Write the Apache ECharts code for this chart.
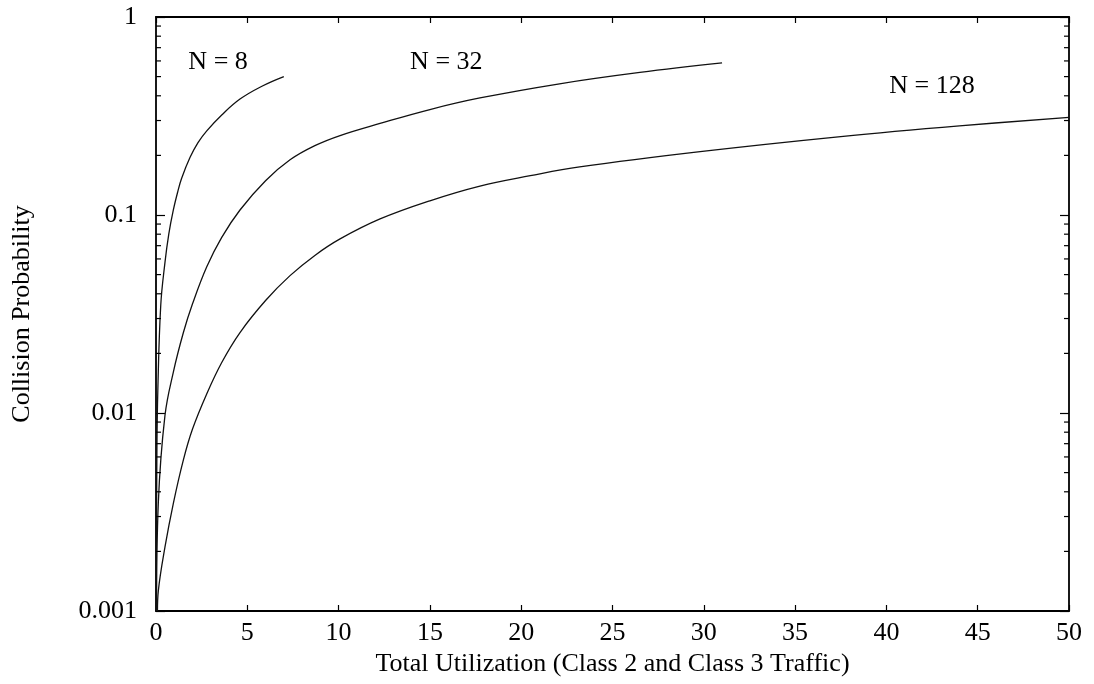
<!DOCTYPE html>
<html>
<head>
<meta charset="utf-8">
<script src="https://cdn.jsdelivr.net/npm/echarts@6/dist/echarts.min.js"></script>
<style>
  html, body { margin: 0; padding: 0; background: #fff; }
  #chart { width: 1094px; height: 684px; }
</style>
</head>
<body>
<div id="chart"></div>
<script>
// Collision probability vs. total utilization for three network sizes
const n8U  = [0.008, 0.05, 0.1, 0.26, 0.49, 0.7, 0.95, 1.2, 1.4, 1.86, 2.3, 2.78, 3.6, 4.6, 5.8, 7.0];
const n8P  = [0.001, 0.0065, 0.013, 0.035, 0.0575, 0.08, 0.106, 0.132, 0.153, 0.195, 0.232, 0.266, 0.32, 0.385, 0.447, 0.50];

const n32U = [0.03, 0.126, 0.49, 0.95, 1.5, 2.0, 2.78, 3.6, 4.6, 6.0, 7.34, 8.7, 10.08, 12.27, 15.0, 17.74, 22.1, 26.5, 31.0];
const n32P = [0.001, 0.0035, 0.0097, 0.0161, 0.0255, 0.0356, 0.0548, 0.0771, 0.106, 0.149, 0.19, 0.224, 0.252, 0.29, 0.341, 0.39, 0.46, 0.525, 0.586];

const n128U = [0.08, 0.126, 0.49, 0.95, 1.5, 2.0, 2.78, 3.6, 4.6, 6.0, 7.34, 8.7, 10.08, 12.27, 15.0, 17.74, 20.5, 23.2, 29.8, 37.5, 44, 50];
const n128P = [0.001, 0.00126, 0.0021, 0.0035, 0.0058, 0.0083, 0.0125, 0.018, 0.0255, 0.037, 0.0494, 0.0625, 0.0757, 0.0955, 0.118, 0.14, 0.158, 0.175, 0.209, 0.249, 0.282, 0.311];

const xTicks = [0, 5, 10, 15, 20, 25, 30, 35, 40, 45, 50];
const yTickLabels = { '0.001': '0.001', '0.01': '0.01', '0.1': '0.1', '1': '1' };
// minor log ticks (2..9 within each decade)
const minorTickValues = [];
[0.001, 0.01, 0.1].forEach(function (d) {
  for (let k = 2; k <= 9; k++) minorTickValues.push(+(d * k).toPrecision(3));
});

const curveNames = ['N = 8', 'N = 32', 'N = 128'];
const curveLabelAt = [[3.4, 0.593], [15.9, 0.593], [42.5, 0.448]];

const FONT = '"Liberation Serif", "DejaVu Serif", serif';
const FS = 26;

function pairs(u, p) { return u.map(function (v, i) { return [v, p[i]]; }); }

const chart = echarts.init(document.getElementById('chart'), null, { renderer: 'canvas' });

const axisLineStyle = { color: '#000', width: 1.8 };

function curve(name, data, at) {
  return {
    name: name,
    type: 'line',
    data: data,
    smooth: 0.4,
    symbol: 'none',
    lineStyle: { color: '#111', width: 1.3 },
    xAxisIndex: 0, yAxisIndex: 0,
    markPoint: {
      symbol: 'circle', symbolSize: 0,
      label: { show: true, formatter: name, color: '#000', fontFamily: FONT, fontSize: FS, position: 'inside' },
      data: [{ coord: at }]
    },
    z: 3
  };
}

const option = {
  backgroundColor: '#fff',
  animation: false,
  grid: { left: 156, right: 25, top: 17, bottom: 73, containLabel: false },
  xAxis: [
    {
      type: 'value', min: 0, max: 50, interval: 5, position: 'bottom',
      name: 'Total Utilization (Class 2 and Class 3 Traffic)',
      nameLocation: 'middle', nameGap: 38,
      nameTextStyle: { color: '#000', fontFamily: FONT, fontSize: FS },
      axisLine: { show: true, lineStyle: axisLineStyle },
      axisTick: { show: true, inside: true, length: 6, lineStyle: { color: '#000', width: 1.2 } },
      axisLabel: { color: '#000', fontFamily: FONT, fontSize: FS, margin: 9,
        formatter: function (v) { return xTicks.indexOf(v) >= 0 ? String(v) : ''; } },
      splitLine: { show: false }
    },
    {
      type: 'value', min: 0, max: 50, interval: 5, position: 'top',
      axisLine: { show: true, onZero: false, lineStyle: axisLineStyle },
      axisTick: { show: true, inside: true, length: 6, lineStyle: { color: '#000', width: 1.2 } },
      axisLabel: { show: false },
      splitLine: { show: false }
    }
  ],
  yAxis: [
    {
      type: 'log', logBase: 10, min: 0.001, max: 1, position: 'left',
      name: 'Collision Probability', nameLocation: 'middle', nameGap: 121,
      nameTextStyle: { color: '#000', fontFamily: FONT, fontSize: FS },
      axisLine: { show: true, onZero: false, lineStyle: axisLineStyle },
      axisTick: { show: true, inside: true, length: 9, lineStyle: { color: '#000', width: 1.2 } },
      axisLabel: { color: '#000', fontFamily: FONT, fontSize: FS, margin: 19,
        formatter: function (v) { const k = String(+v.toPrecision(3)); return yTickLabels[k] || ''; } },
      splitLine: { show: false }
    },
    {
      type: 'log', logBase: 10, min: 0.001, max: 1, position: 'right',
      axisLine: { show: true, onZero: false, lineStyle: axisLineStyle },
      axisTick: { show: true, inside: true, length: 9, lineStyle: { color: '#000', width: 1.2 } },
      axisLabel: { show: false },
      splitLine: { show: false }
    }
  ],
  series: [
    curve(curveNames[0], pairs(n8U, n8P), curveLabelAt[0]),
    curve(curveNames[1], pairs(n32U, n32P), curveLabelAt[1]),
    curve(curveNames[2], pairs(n128U, n128P), curveLabelAt[2]),
    {
      // minor log ticks on the left and right frame edges
      type: 'custom',
      xAxisIndex: 0, yAxisIndex: 0,
      clip: false,
      silent: true,
      data: minorTickValues.map(function (v) { return [0, v]; }),
      renderItem: function (params, api) {
        const v = api.value(1);
        const l = api.coord([0, v]);
        const r = api.coord([50, v]);
        const len = 5;
        return {
          type: 'group',
          children: [
            { type: 'line', shape: { x1: l[0], y1: l[1], x2: l[0] + len, y2: l[1] },
              style: { stroke: '#000', lineWidth: 1.2 } },
            { type: 'line', shape: { x1: r[0], y1: r[1], x2: r[0] - len, y2: r[1] },
              style: { stroke: '#000', lineWidth: 1.2 } }
          ]
        };
      },
      z: 4
    }
  ]
};

chart.setOption(option);
</script>
</body>
</html>
